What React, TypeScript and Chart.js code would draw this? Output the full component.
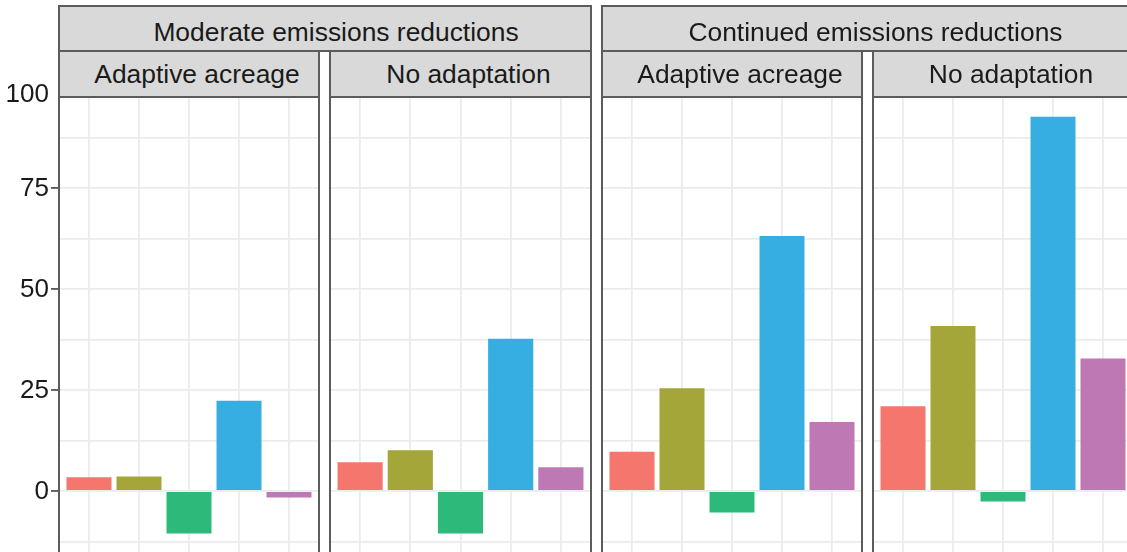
import React, { useEffect, useRef } from 'react';
import { Chart, registerables } from 'chart.js';

Chart.register(...registerables);

// Facet labels
const emissionGroups = ['Moderate emissions reductions', 'Continued emissions reductions'];
const adaptationLabels = ['Adaptive acreage', 'No adaptation'];

// Five bars per panel, one colour each
const barKeys = [0, 1, 2, 3, 4];
const barColors = ['#F4766C', '#A4A63A', '#2DB97A', '#36AEE2', '#BE78B4'];

// Percent change per panel
const moderateAdaptive = [3.4, 3.6, -10.5, 22.3, -1.6];
const moderateNoAdaptation = [7.1, 10.1, -10.5, 37.7, 5.9];
const continuedAdaptive = [9.7, 25.4, -5.3, 63.1, 17.1];
const continuedNoAdaptation = [21.0, 40.8, -2.6, 92.6, 32.8];

// Y axis
const yMin = -15.1;
const yMax = 97.5;
const yGridValues = [-12.5, 0, 12.5, 25, 37.5, 50, 62.5, 75, 87.5];
const yLabelValues = [0, 25, 50, 75];
const yTopLabel = '100';

const FONT = '"Liberation Sans", Arial, Helvetica, sans-serif';
const BORDER = '#5c5c5c';
const STRIP_FILL = '#D9D9D9';
const GRID = '#EBEBEB';
const TEXT = '#1a1a1a';

const panelLefts = [59, 330, 602, 873];
const panelWidths = [260, 261, 260, 260];
const panelTop = 97;
const pageH = 552;

const panels = [
  { values: moderateAdaptive, label: adaptationLabels[0] },
  { values: moderateNoAdaptation, label: adaptationLabels[1] },
  { values: continuedAdaptive, label: adaptationLabels[0] },
  { values: continuedNoAdaptation, label: adaptationLabels[1] },
];

// Draws the y tick labels and tick marks to the left of the first panel
const yAxisLabels = {
  id: 'yAxisLabels',
  afterDraw(chart: any) {
    const y = chart.scales.y;
    const ctx = chart.ctx;
    const right = chart.chartArea.left;
    ctx.save();
    ctx.font = `26px ${FONT}`;
    ctx.fillStyle = TEXT;
    ctx.textAlign = 'right';
    ctx.textBaseline = 'middle';
    ctx.strokeStyle = '#333333';
    ctx.lineWidth = 1.5;
    yLabelValues.forEach((v) => {
      const py = y.getPixelForValue(v);
      ctx.beginPath();
      ctx.moveTo(right - 8, py);
      ctx.lineTo(right, py);
      ctx.stroke();
      ctx.fillText(String(v), right - 10, py + 1);
    });
    ctx.fillText(yTopLabel, right - 10, y.getPixelForValue(yMax) - 2);
    ctx.restore();
  },
};

function PanelChart({ index }: { index: number }) {
  const ref = useRef<HTMLCanvasElement | null>(null);
  const withAxis = index === 0;
  const left = withAxis ? 0 : panelLefts[index];
  const width = withAxis ? panelLefts[0] + panelWidths[0] : panelWidths[index];
  const top = withAxis ? 0 : panelTop;
  const height = pageH - top;

  useEffect(() => {
    if (!ref.current) return;
    const values = panels[index].values;
    const chart = new Chart(ref.current, {
      type: 'bar',
      data: {
        datasets: [
          {
            data: barKeys.map((k, i) => ({ x: k, y: values[i] })),
            backgroundColor: barColors,
            borderWidth: 0,
            categoryPercentage: 1,
            barPercentage: 0.9,
          },
        ],
      },
      options: {
        animation: false,
        responsive: false,
        maintainAspectRatio: false,
        devicePixelRatio: 1,
        layout: {
          autoPadding: false,
          padding: { top: withAxis ? panelTop : 0, left: 0, right: 0, bottom: 0 },
        },
        plugins: { legend: { display: false }, tooltip: { enabled: false } },
        scales: {
          x: {
            type: 'linear',
            offset: false,
            min: -0.6,
            max: 4.6,
            afterBuildTicks: (s: any) => {
              s.ticks = barKeys.map((v) => ({ value: v }));
            },
            afterFit: (s: any) => {
              s.height = 0;
            },
            ticks: { display: false },
            grid: { offset: false, color: GRID, lineWidth: 1.8, drawTicks: false },
            border: { display: false },
          },
          y: {
            type: 'linear',
            min: yMin,
            max: yMax,
            afterBuildTicks: (s: any) => {
              s.ticks = yGridValues.map((v) => ({ value: v }));
            },
            afterFit: (s: any) => {
              s.width = withAxis ? panelLefts[0] : 0;
            },
            ticks: { display: false },
            grid: { color: GRID, lineWidth: 1.8, drawTicks: false },
            border: { display: false },
          },
        },
      },
      plugins: withAxis ? [yAxisLabels] : [],
    } as any);
    return () => chart.destroy();
  }, [index]);

  return (
    <canvas
      ref={ref}
      width={width}
      height={height}
      style={{ position: 'absolute', left, top, width, height, display: 'block' }}
    />
  );
}

const stripText: React.CSSProperties = {
  position: 'absolute',
  boxSizing: 'border-box',
  background: STRIP_FILL,
  border: `2px solid ${BORDER}`,
  color: TEXT,
  fontFamily: FONT,
  fontSize: 26.4,
  textAlign: 'center',
  whiteSpace: 'nowrap',
  overflow: 'hidden',
  paddingLeft: 16,
  zIndex: 2,
};

export default function App() {
  return (
    <div
      style={{
        position: 'fixed',
        left: 0,
        top: 0,
        width: 1127,
        height: pageH,
        overflow: 'hidden',
        background: '#ffffff',
      }}
    >
      {panels.map((_, i) => (
        <PanelChart key={`c${i}`} index={i} />
      ))}
      {panels.map((_, i) => (
        <div
          key={`b${i}`}
          style={{
            position: 'absolute',
            boxSizing: 'border-box',
            left: panelLefts[i] - 1,
            top: panelTop - 1,
            width: panelWidths[i] + 2,
            height: pageH,
            border: `2px solid ${BORDER}`,
            zIndex: 1,
            pointerEvents: 'none',
          }}
        />
      ))}
      {emissionGroups.map((g, j) => {
        const l = panelLefts[j * 2] - 1;
        const r = panelLefts[j * 2 + 1] + panelWidths[j * 2 + 1] + 1;
        return (
          <div
            key={`g${j}`}
            style={{
              ...stripText,
              left: l,
              top: 5,
              width: r - l,
              height: 47,
              lineHeight: '46px',
              paddingTop: 2,
              paddingLeft: j === 0 ? 22 : 16,
            }}
          >
            {g}
          </div>
        );
      })}
      {panels.map((p, i) => (
        <div
          key={`s${i}`}
          style={{
            ...stripText,
            left: panelLefts[i] - 1,
            top: 50,
            width: panelWidths[i] + 2,
            height: 48,
            lineHeight: '44px',
          }}
        >
          {p.label}
        </div>
      ))}
    </div>
  );
}
